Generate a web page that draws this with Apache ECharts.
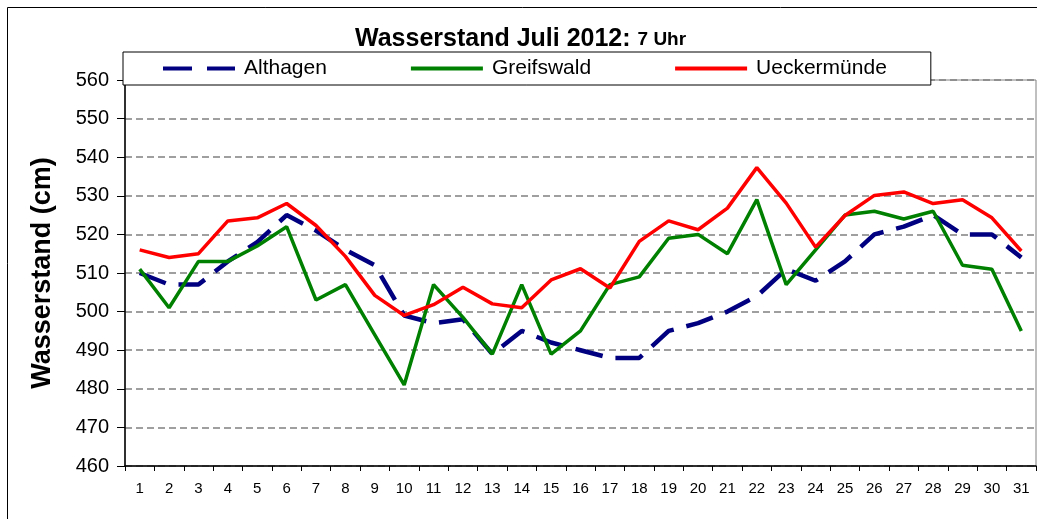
<!DOCTYPE html>
<html>
<head>
<meta charset="utf-8">
<script src="https://cdn.jsdelivr.net/npm/echarts@6/dist/echarts.min.js"></script>
<style>
html,body{margin:0;padding:0;background:#fff;}
#c{width:1037px;height:519px;}
</style>
</head>
<body>
<div id="c"></div>
<script>
const days = ['1','2','3','4','5','6','7','8','9','10','11','12','13','14','15','16','17','18','19','20','21','22','23','24','25','26','27','28','29','30','31'];
const althagen = [510, 507, 507, 513, 518, 525, 521, 516, 512, 499, 497, 498, 489, 495, 492, 490, 488, 488, 495, 497, 500, 504, 511, 508, 513, 520, 522, 525, 520, 520, 514];
const greifswald = [511, 501, 513, 513, 517, 522, 503, 507, 494, 481, 507, 498.5, 489, 507, 489, 495, 507, 509, 519, 520, 515, 529, 507, 516, 525, 526, 524, 526, 512, 511, 495];
const ueckermuende = [516, 514, 515, 523.5, 524.3, 528, 522.3, 514.3, 504.2, 499, 501.8, 506.3, 502, 501, 508.2, 511.1, 506.1, 518.2, 523.5, 521.2, 526.8, 537.3, 528.1, 516.7, 524.9, 530.1, 531, 528, 529, 524.3, 515.7];
const seriesNames = ['Althagen', 'Greifswald', 'Ueckermünde'];
const yTicks = {min: 460, max: 560, interval: 10};

const font = 'Liberation Sans, Arial, sans-serif';
const chart = echarts.init(document.getElementById('c'), null, {renderer: 'canvas'});
chart.setOption({
  animation: false,
  backgroundColor: '#fff',
  graphic: [{
    type: 'rect', z: 0,
    shape: {x: 7.5, y: 7.5, width: 1040, height: 520},
    style: {fill: 'none', stroke: '#000', lineWidth: 1}
  }],
  title: {
    left: 350, top: 22,
    text: '{a|Wasserstand Juli 2012: }{b|7 Uhr}',
    textStyle: {
      rich: {
        a: {fontFamily: font, fontWeight: 'bold', fontSize: 25, color: '#000'},
        b: {fontFamily: font, fontWeight: 'bold', fontSize: 19, color: '#000'}
      }
    }
  },
  legend: {
    left: 123, top: 52,
    padding: [6, 44, 6, 40],
    itemGap: 84,
    itemWidth: 72, itemHeight: 4,
    borderColor: '#000', borderWidth: 1,
    backgroundColor: '#fff',
    z: 10,
    textStyle: {fontFamily: font, fontSize: 21, color: '#000', padding: [0, 0, 0, 4]},
    data: [
      {name: seriesNames[0], icon: 'path://M0,0h29v4h-29z M44,0h28v4h-28z'},
      {name: seriesNames[1], icon: 'rect'},
      {name: seriesNames[2], icon: 'rect'}
    ]
  },
  grid: {
    left: 125, top: 80, right: 1, bottom: 53,
    show: true, borderColor: '#808080', borderWidth: 1
  },
  xAxis: {
    type: 'category', data: days, boundaryGap: true,
    axisLine: {lineStyle: {color: '#000', width: 1.5}},
    axisTick: {show: true, length: 5, lineStyle: {color: '#000'}},
    axisLabel: {fontFamily: font, fontSize: 15, color: '#000', margin: 15, interval: 0}
  },
  yAxis: {
    type: 'value', min: yTicks.min, max: yTicks.max, interval: yTicks.interval,
    name: 'Wasserstand (cm)', nameLocation: 'middle', nameGap: 69, nameRotate: 90,
    nameTextStyle: {fontFamily: font, fontWeight: 'bold', fontSize: 27, color: '#000'},
    axisLine: {show: true, lineStyle: {color: '#000', width: 1.5}},
    axisTick: {show: true, length: 8, lineStyle: {color: '#000'}},
    axisLabel: {fontFamily: font, fontSize: 20, color: '#000', margin: 16},
    splitLine: {show: true, lineStyle: {color: '#808080', width: 1.5, type: [7, 4]}}
  },
  series: [
    {name: seriesNames[0], type: 'line', data: althagen, symbol: 'none', z: 3,
     lineStyle: {color: '#000080', width: 4.5, type: [28, 13]}, itemStyle: {color: '#000080'}},
    {name: seriesNames[1], type: 'line', data: greifswald, symbol: 'none', z: 4,
     lineStyle: {color: '#008000', width: 3.5}, itemStyle: {color: '#008000'}},
    {name: seriesNames[2], type: 'line', data: ueckermuende, symbol: 'none', z: 5,
     lineStyle: {color: '#ff0000', width: 3.5}, itemStyle: {color: '#ff0000'}}
  ]
});
</script>
</body>
</html>
